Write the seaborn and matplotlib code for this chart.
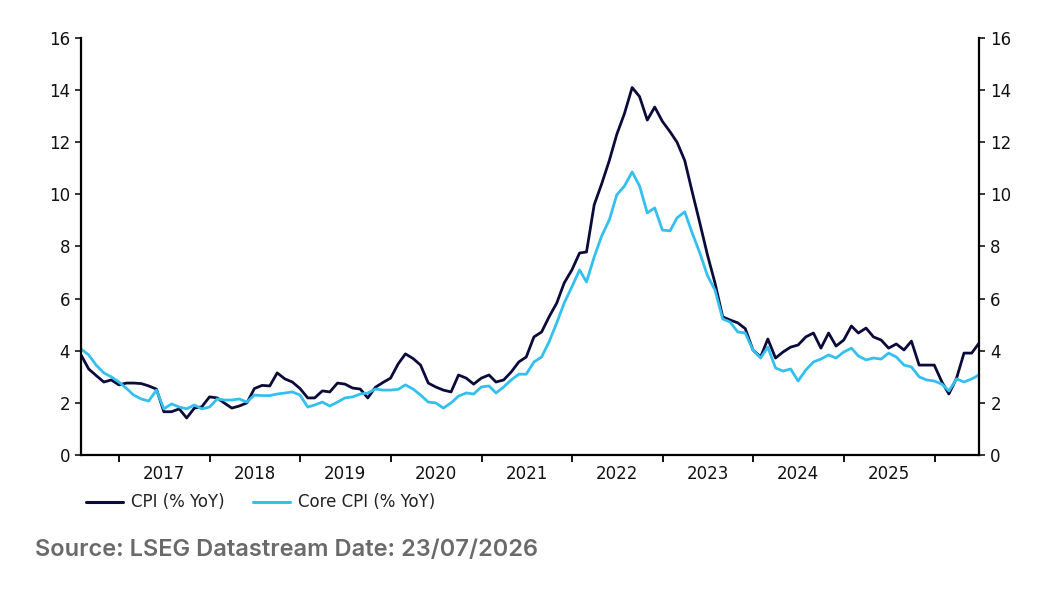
import pandas as pd
import numpy as np
import matplotlib
matplotlib.use("Agg")
import matplotlib.pyplot as plt
import matplotlib.dates as mdates
from matplotlib.lines import Line2D
import seaborn as sns

# monthly observations, Jul 2016 .. Jun 2026 (month end)
dates = pd.date_range("2016-07-31", "2026-06-30", freq="ME")

cpi = [3.84, 3.3, 3.05, 2.8, 2.88, 2.69, 2.76, 2.76, 2.74, 2.65,
       2.53, 1.66, 1.66, 1.77, 1.42, 1.8, 1.85, 2.23, 2.19, 2.0,
       1.8, 1.88, 2.0, 2.55, 2.67, 2.65, 3.15, 2.92, 2.8, 2.55,
       2.19, 2.19, 2.46, 2.42, 2.76, 2.72, 2.57, 2.53, 2.19, 2.6,
       2.78, 2.95, 3.5, 3.88, 3.7, 3.45, 2.76, 2.61, 2.49, 2.42,
       3.07, 2.95, 2.72, 2.95, 3.07, 2.8, 2.88, 3.18, 3.57, 3.76,
       4.53, 4.72, 5.3, 5.83, 6.6, 7.1, 7.75, 7.79, 9.6, 10.4,
       11.3, 12.3, 13.1, 14.1, 13.75, 12.85, 13.35, 12.8, 12.4, 12.0,
       11.3, 10.1, 8.9, 7.7, 6.6, 5.3, 5.18, 5.07, 4.85, 4.03,
       3.76, 4.45, 3.72, 3.95, 4.14, 4.22, 4.53, 4.68, 4.1, 4.68,
       4.18, 4.41, 4.95, 4.68, 4.87, 4.53, 4.41, 4.1, 4.26, 4.03,
       4.37, 3.45, 3.45, 3.45, 2.8, 2.34, 2.95, 3.91, 3.91, 4.3]

core_cpi = [4.07, 3.84, 3.45, 3.15, 3.0, 2.8, 2.55, 2.3, 2.15, 2.07,
            2.49, 1.77, 1.96, 1.84, 1.77, 1.92, 1.77, 1.84, 2.15, 2.11,
            2.11, 2.15, 2.03, 2.3, 2.28, 2.28, 2.34, 2.38, 2.42, 2.3,
            1.84, 1.92, 2.03, 1.88, 2.03, 2.19, 2.23, 2.34, 2.38, 2.53,
            2.49, 2.49, 2.52, 2.69, 2.53, 2.3, 2.03, 2.0, 1.8, 2.0,
            2.26, 2.38, 2.34, 2.61, 2.65, 2.38, 2.61, 2.88, 3.1, 3.1,
            3.57, 3.76, 4.34, 5.07, 5.83, 6.45, 7.1, 6.64, 7.6, 8.4,
            9.02, 9.98, 10.32, 10.86, 10.32, 9.29, 9.48, 8.63, 8.6, 9.1,
            9.33, 8.52, 7.75, 6.9, 6.33, 5.22, 5.1, 4.72, 4.68, 4.03,
            3.72, 4.14, 3.34, 3.22, 3.3, 2.84, 3.26, 3.57, 3.68, 3.84,
            3.72, 3.95, 4.1, 3.8, 3.65, 3.72, 3.68, 3.91, 3.76, 3.45,
            3.38, 3.0, 2.88, 2.84, 2.72, 2.46, 2.92, 2.8, 2.92, 3.07]

series_names = ["CPI (% YoY)", "Core CPI (% YoY)"]
colors = ["#0b0b3b", "#33c0ee"]
y_ticks = [0, 2, 4, 6, 8, 10, 12, 14, 16]
source_text = "Source: LSEG Datastream Date: 23/07/2026"

df = pd.DataFrame({"date": dates, series_names[0]: cpi, series_names[1]: core_cpi})
long_df = df.melt(id_vars="date", var_name="series", value_name="value")

sns.set_style("ticks")
plt.rcParams["font.family"] = ["DejaVu Sans"]

fig = plt.figure(figsize=(10.48, 5.89), dpi=100)
ax = fig.add_axes([0.0773, 0.2275, 0.857, 0.708])

sns.lineplot(data=long_df, x="date", y="value", hue="series", hue_order=series_names,
             palette=dict(zip(series_names, colors)), linewidth=2.0, ax=ax, legend=False)

ax.set_xlim(dates[0], dates[-1])
ax.set_ylim(0, 16)
ax.set_yticks(y_ticks)
ax.set_xlabel("")
ax.set_ylabel("")

ax.xaxis.set_major_locator(mdates.YearLocator(1, month=1, day=1))
ax.xaxis.set_major_formatter(plt.NullFormatter())
ax.xaxis.set_minor_locator(mdates.YearLocator(1, month=7, day=1))
ax.xaxis.set_minor_formatter(mdates.DateFormatter("%Y"))
ax.tick_params(axis="x", which="major", length=5, width=1.3, direction="out", color="black")
ax.tick_params(axis="x", which="minor", length=0, labelsize=12, pad=7, labelcolor="#111111")
ax.tick_params(axis="y", which="major", length=4, width=1.3, labelsize=12, pad=4,
               left=True, right=True, labelleft=True, labelright=True, labelcolor="#111111")

for side in ["left", "right", "bottom"]:
    ax.spines[side].set_visible(True)
    ax.spines[side].set_linewidth(1.6)
    ax.spines[side].set_color("black")
ax.spines["top"].set_visible(False)

handles = [Line2D([0], [0], color=c, linewidth=2.2) for c in colors]
fig.legend(handles, series_names, loc="center left", bbox_to_anchor=(0.068, 0.147),
           ncol=2, frameon=False, fontsize=12, handlelength=2.2, handletextpad=0.5,
           columnspacing=1.7, labelcolor="#222222")

fig.text(0.033, 0.066, source_text, fontsize=17, color="#6a6a6a",
         family=["Inter", "DejaVu Sans"], fontweight="semibold", va="center", ha="left")

fig.savefig("out.png", dpi=100)
